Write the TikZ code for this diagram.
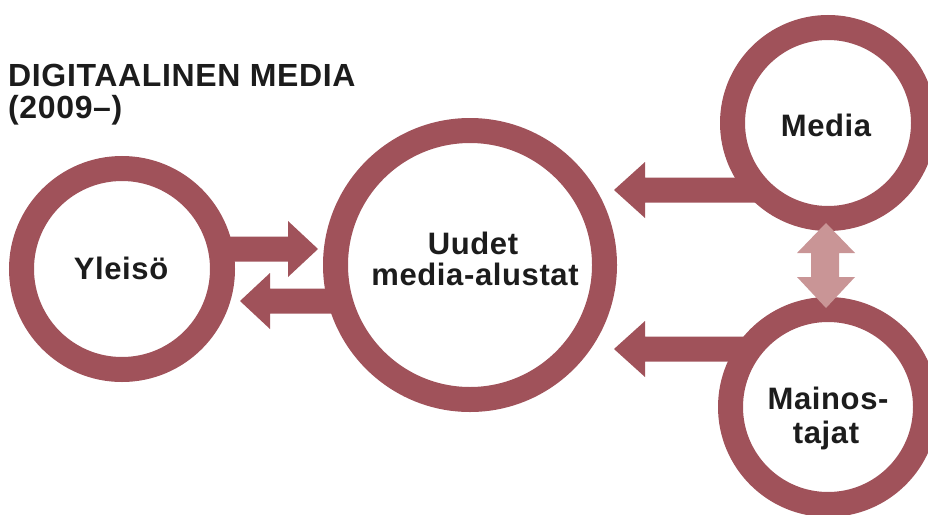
\documentclass[tikz,border=0pt]{standalone}
\usepackage{fontspec}
\setmainfont{Liberation Sans}[LetterSpace=2]
\definecolor{ringcol}{HTML}{A0525A}
\definecolor{pinkcol}{HTML}{C99596}
\definecolor{txtcol}{HTML}{1C1C1C}
\begin{document}
\begin{tikzpicture}[x=1pt,y=-1pt]
\tikzset{
  ringc/.style={circle, draw=ringcol, fill=white, line width=25pt, inner sep=0pt},
  blockarrow/.style={fill=ringcol, draw=none},
  lbl/.style={font=\fontsize{31}{33}\selectfont\bfseries, anchor=base, inner sep=0pt, text=txtcol},
  ttl/.style={font=\fontsize{32}{33}\selectfont\bfseries, anchor=base west, inner sep=0pt, text=txtcol}
}
\clip (0,0) rectangle (928,514);
\useasboundingbox (0,0) rectangle (928,514);

% block arrows
\fill[blockarrow] (215,236.5) -- (288,236.5) -- (288,221) -- (318,249) -- (288,277) -- (288,261.5) -- (215,261.5) -- cycle;
\fill[blockarrow] (345,288.5) -- (270,288.5) -- (270,273) -- (240,301) -- (270,329) -- (270,313.5) -- (345,313.5) -- cycle;
\fill[blockarrow] (760,177.5) -- (645,177.5) -- (645,162) -- (614,190) -- (645,218) -- (645,202.5) -- (760,202.5) -- cycle;
\fill[blockarrow] (760,336.5) -- (645,336.5) -- (645,321) -- (614,349) -- (645,377) -- (645,361.5) -- (760,361.5) -- cycle;

% circles
\node[ringc, minimum size=201pt] (yleiso) at (122,269) {};
\node[ringc, minimum size=269pt] (uudet) at (470,265) {};
\node[ringc, minimum size=191pt] (media) at (828,123) {};
\node[ringc, minimum size=195pt] (mainos) at (828,407) {};

% labels
\node[lbl] (tyleiso) at (121,279) {Yleisö};
\node[lbl] (tuudet1) at (473,254) {Uudet};
\node[lbl] (tuudet2) at (475,285) {media-alustat};
\node[lbl] (tmedia) at (826,136) {Media};
\node[lbl] (tmainos1) at (828,409) {Mainos-};
\node[lbl] (tmainos2) at (826,443) {tajat};

% title
\node[ttl] (title1) at (8,86) {DIGITAALINEN MEDIA};
\node[ttl] (title2) at (8,118) {(2009–)};

% double arrow between Media and Mainostajat
\fill[pinkcol] (811,253) -- (797,253) -- (826,223) -- (855,253) -- (839,253) -- (839,277) -- (855,277) -- (826,308) -- (797,277) -- (811,277) -- cycle;
\end{tikzpicture}
\end{document}
